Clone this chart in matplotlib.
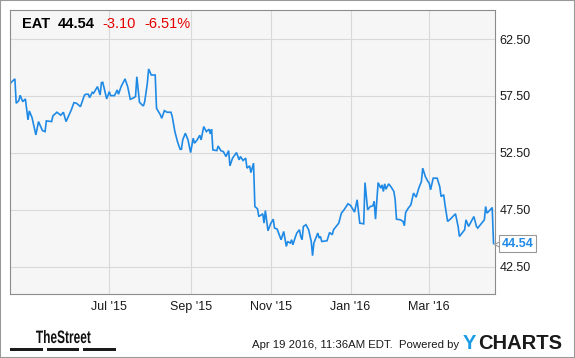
import pandas as pd
import matplotlib
matplotlib.use('Agg')
import matplotlib.pyplot as plt
import matplotlib.dates as mdates
import matplotlib.transforms as mtransforms
from matplotlib.patches import Rectangle, PathPatch
from matplotlib.textpath import TextPath
from matplotlib.font_manager import FontProperties

plt.rcParams['font.family'] = ['Liberation Sans', 'DejaVu Sans']

ticker = 'EAT'
change = -3.10
change_pct = -6.51

# EAT closing prices (Apr 2015 - Apr 2016)
dates = [
    '2015-04-17', '2015-04-20', '2015-04-21', '2015-04-23', '2015-04-24', '2015-04-26', '2015-04-28', '2015-04-30',
    '2015-05-01', '2015-05-03', '2015-05-06', '2015-05-08', '2015-05-11', '2015-05-13', '2015-05-14', '2015-05-18',
    '2015-05-19', '2015-05-22', '2015-05-25', '2015-05-27', '2015-05-29', '2015-06-02', '2015-06-04', '2015-06-06',
    '2015-06-09', '2015-06-12', '2015-06-13', '2015-06-15', '2015-06-16', '2015-06-18', '2015-06-19', '2015-06-22',
    '2015-06-24', '2015-06-25', '2015-06-26', '2015-06-29', '2015-07-01', '2015-07-02', '2015-07-05', '2015-07-07',
    '2015-07-08', '2015-07-10', '2015-07-13', '2015-07-15', '2015-07-17', '2015-07-19', '2015-07-21', '2015-07-22',
    '2015-07-24', '2015-07-26', '2015-07-27', '2015-07-28', '2015-07-30', '2015-07-31', '2015-08-02', '2015-08-05',
    '2015-08-06', '2015-08-09', '2015-08-10', '2015-08-12', '2015-08-14', '2015-08-17', '2015-08-18', '2015-08-20',
    '2015-08-22', '2015-08-24', '2015-08-25', '2015-08-26', '2015-08-28', '2015-08-30', '2015-09-01', '2015-09-03',
    '2015-09-04', '2015-09-06', '2015-09-08', '2015-09-09', '2015-09-11', '2015-09-13', '2015-09-15', '2015-09-16',
    '2015-09-17', '2015-09-18', '2015-09-21', '2015-09-22', '2015-09-24', '2015-09-26', '2015-09-28', '2015-09-30',
    '2015-10-01', '2015-10-03', '2015-10-06', '2015-10-08', '2015-10-09', '2015-10-11', '2015-10-13', '2015-10-14',
    '2015-10-16', '2015-10-17', '2015-10-19', '2015-10-20', '2015-10-22', '2015-10-23', '2015-10-26', '2015-10-27',
    '2015-10-28', '2015-10-30', '2015-11-01', '2015-11-03', '2015-11-04', '2015-11-06', '2015-11-09', '2015-11-11',
    '2015-11-13', '2015-11-14', '2015-11-16', '2015-11-17', '2015-11-18', '2015-11-20', '2015-11-21', '2015-11-23',
    '2015-11-24', '2015-11-25', '2015-11-26', '2015-11-28', '2015-11-30', '2015-12-02', '2015-12-03', '2015-12-04',
    '2015-12-07', '2015-12-08', '2015-12-09', '2015-12-10', '2015-12-14', '2015-12-16', '2015-12-18', '2015-12-19',
    '2015-12-22', '2015-12-23', '2015-12-25', '2015-12-27', '2015-12-30', '2016-01-01', '2016-01-04', '2016-01-06',
    '2016-01-08', '2016-01-11', '2016-01-12', '2016-01-14', '2016-01-16', '2016-01-18', '2016-01-19', '2016-01-20',
    '2016-01-22', '2016-01-24', '2016-01-25', '2016-01-26', '2016-01-27', '2016-01-28', '2016-01-30', '2016-02-01',
    '2016-02-03', '2016-02-04', '2016-02-05', '2016-02-08', '2016-02-10', '2016-02-11', '2016-02-12', '2016-02-14',
    '2016-02-16', '2016-02-18', '2016-02-20', '2016-02-22', '2016-02-24', '2016-02-25', '2016-02-27', '2016-02-29',
    '2016-03-01', '2016-03-02', '2016-03-04', '2016-03-05', '2016-03-07', '2016-03-09', '2016-03-10', '2016-03-12',
    '2016-03-13', '2016-03-15', '2016-03-17', '2016-03-19', '2016-03-21', '2016-03-23', '2016-03-24', '2016-03-26',
    '2016-03-28', '2016-03-29', '2016-03-31', '2016-04-02', '2016-04-04', '2016-04-06', '2016-04-07', '2016-04-10',
    '2016-04-12', '2016-04-13', '2016-04-14', '2016-04-16', '2016-04-18', '2016-04-19',
]
close = [
    58.67, 59.00, 56.86, 57.09, 57.56, 57.00, 57.24, 55.40,
    56.18, 55.63, 54.08, 55.25, 54.46, 54.37, 55.31, 55.25,
    55.75, 56.07, 55.81, 56.07, 55.25, 56.27, 56.91, 56.86,
    56.56, 57.56, 57.65, 57.65, 57.35, 57.82, 57.74, 58.32,
    57.59, 58.67, 58.70, 57.24, 57.88, 57.53, 57.53, 58.03,
    57.65, 58.32, 59.00, 58.32, 57.21, 57.30, 57.44, 59.19,
    56.95, 56.71, 56.62, 57.00, 58.61, 59.87, 59.34, 59.34,
    56.42, 55.83, 55.54, 56.21, 56.07, 56.07, 55.69, 54.37,
    53.49, 52.82, 52.82, 53.64, 54.23, 53.64, 52.53, 53.79,
    53.35, 53.64, 54.05, 53.64, 54.81, 54.37, 54.58, 54.17,
    54.58, 52.76, 52.70, 53.11, 52.70, 52.61, 52.18, 52.70,
    51.36, 52.04, 52.53, 51.89, 52.18, 51.83, 52.04, 51.16,
    51.36, 50.77, 51.60, 47.79, 47.59, 46.91, 47.15, 46.33,
    47.44, 45.66, 46.27, 46.68, 45.90, 45.81, 44.87, 45.60,
    44.28, 44.72, 44.58, 44.87, 44.43, 45.16, 45.46, 45.75,
    45.16, 44.87, 46.04, 46.19, 45.75, 44.72, 43.47, 44.58,
    45.46, 45.02, 45.16, 44.72, 44.78, 45.51, 45.31, 45.75,
    46.19, 46.33, 47.21, 47.50, 48.03, 47.88, 47.30, 48.38,
    46.33, 46.27, 49.89, 47.50, 47.79, 47.85, 48.23, 46.68,
    49.89, 49.40, 49.69, 49.11, 49.78, 49.31, 49.78, 49.49,
    49.11, 48.38, 46.68, 46.62, 46.48, 46.10, 47.27, 47.65,
    47.94, 48.97, 48.61, 49.40, 49.98, 51.16, 50.42, 49.98,
    49.84, 49.26, 50.28, 50.28, 50.28, 49.54, 48.67, 48.82,
    47.94, 46.48, 46.68, 46.91, 47.15, 46.04, 45.16, 45.46,
    45.75, 46.62, 46.04, 46.48, 46.91, 46.04, 45.90, 46.33,
    46.62, 47.79, 47.21, 47.44, 47.70, 44.54,
]
y_ticks = [42.5, 47.5, 52.5, 57.5, 62.5]
x_ticks = ['2015-07-01', '2015-09-01', '2015-11-01', '2016-01-01', '2016-03-01']

df = pd.DataFrame({'date': pd.to_datetime(dates), 'close': close})

W, H = 575, 358
fig = plt.figure(figsize=(W / 100, H / 100), dpi=100)
fig.patch.set_facecolor('white')

# plot box in pixels: x 10..494.5, y 10..294.3 from the top
ax = fig.add_axes([10.3 / W, 1 - 294.3 / H, 484.2 / W, 284.3 / H])
ax.set_facecolor('#f6f6f6')

blue = '#1f8ae6'
ax.plot(df['date'], df['close'], color=blue, lw=1.2, solid_joinstyle='miter')

ax.set_xlim(pd.Timestamp('2015-04-16 12:00'), pd.Timestamp('2016-04-19 18:00'))
ax.set_ylim(40.08, 65.05)

ax.set_yticks(y_ticks)
ax.yaxis.set_major_formatter(plt.FuncFormatter(lambda v, p: f'{v:.2f}'))
ax.yaxis.tick_right()
ax.set_xticks(pd.to_datetime(x_ticks))
ax.xaxis.set_major_formatter(mdates.DateFormatter("%b '%y"))
ax.tick_params(axis='both', length=0, labelsize=9, colors='#1a1a1a')
ax.tick_params(axis='y', pad=3.5)
ax.tick_params(axis='x', pad=5)

ax.grid(True, color='#d9d9d9', lw=0.8)
ax.set_axisbelow(True)
for s in ax.spines.values():
    s.set_color('#8c8c8c')
    s.set_linewidth(0.8)

# header inside the plot box
hy = 1 - 24 / H
fig.text(21.7 / W, hy, ticker, fontsize=10.5, fontweight='bold', color='black', va='center')
fig.text(57.7 / W, hy, f'{close[-1]:.2f}', fontsize=10.5, fontweight='bold', color='black', va='center')
fig.text(102.7 / W, hy, f'{change:.2f}', fontsize=10.5, color='#e60000', va='center')
fig.text(144 / W, hy, f'{change_pct:.2f}%', fontsize=10.5, color='#e60000', va='center')

# last price flag on the right axis
pointer = mtransforms.offset_copy(ax.get_yaxis_transform(), fig=fig, x=2.0, y=0, units='dots')
ax.plot([1], [close[-1]], marker='<', ms=5, mfc='white', mec='#999999', mew=0.8,
        transform=pointer, clip_on=False, zorder=5)
ax.annotate(f'{close[-1]:.2f}', xy=(1, close[-1]), xycoords=('axes fraction', 'data'),
            xytext=(5, 0), textcoords='offset points', ha='left', va='center',
            fontsize=9, fontweight='bold', color=blue, annotation_clip=False, zorder=6,
            bbox=dict(boxstyle='square,pad=0.2', fc='white', ec='#999999', lw=0.8))

# footer
fig.text(459.5 / W, 1 - 348.5 / H, 'Apr 19 2016, 11:36AM EDT.  Powered by', fontsize=8.2,
         color='#1a1a1a', ha='right', va='baseline')
fig.text(462.8 / W, 1 - 349 / H, 'Y', fontsize=14.5, fontweight='bold', color='#1a9be6', va='baseline')
fig.text(478 / W, 1 - 349 / H, 'CHARTS', fontsize=14.5, fontweight='bold', color='#1a1a1a', va='baseline')

# condensed "TheStreet" wordmark, squeezed horizontally
tp = TextPath((0, 0), 'TheStreet', size=18, prop=FontProperties(family='Liberation Sans', weight='bold'))
ext = tp.get_extents()
sx = 54.7 / ext.width
logo_tf = mtransforms.Affine2D().translate(-ext.x0, 0).scale(sx, 1).translate(36, H - 343)
fig.patches.append(PathPatch(tp, transform=logo_tf, fc='#111111', ec='none'))
for x0, x1 in [(10, 42.7), (46.7, 79.3), (83.3, 116)]:
    fig.patches.append(Rectangle((x0 / W, 1 - 351 / H), (x1 - x0) / W, 3 / H,
                                 transform=fig.transFigure, color='#1a1a1a', lw=0))

# outer frame
fig.patches.append(Rectangle((0, 0), 1, 1, transform=fig.transFigure, fill=False,
                             ec='#999999', lw=1.5))

fig.savefig('out.png', dpi=100)
